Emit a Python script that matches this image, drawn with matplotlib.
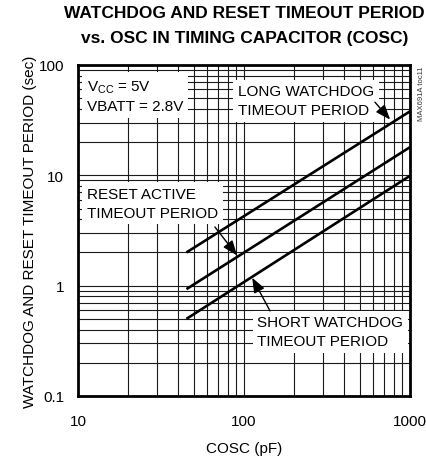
import matplotlib
matplotlib.use('Agg')
import matplotlib.pyplot as plt

plt.rcParams['font.family'] = ['Liberation Sans', 'DejaVu Sans']
plt.rcParams['mathtext.default'] = 'regular'

# values (log-log straight lines)
cosc_pf = [45, 1000]
long_wd = [2.0, 38.0]
reset_active = [0.93, 18.0]
short_wd = [0.5, 9.9]

fig = plt.figure(figsize=(4.27, 4.64), dpi=100)
ax = fig.add_axes([0.1827, 0.1444, 0.7775, 0.7134])

ax.set_xscale('log')
ax.set_yscale('log')
ax.set_xlim(10, 1000)
ax.set_ylim(0.1, 100)

# grid
ax.set_axisbelow(True)
ax.grid(True, which='both', color='#1a1a1a', linewidth=0.8)
ax.tick_params(which='both', length=0, labelsize=11, pad=10)
ax.tick_params(axis='x', pad=13)
ax.set_xticks([10, 100, 1000])
ax.set_xticklabels(['10', '100', '1000'])
ax.set_yticks([0.1, 1, 10, 100])
ax.set_yticklabels(['0.1', '1', '10', '100'])
for s in ax.spines.values():
    s.set_linewidth(2.0)
    s.set_zorder(5)

# curves
for vals in (long_wd, reset_active, short_wd):
    ax.plot(cosc_pf, vals, color='black', linewidth=1.9, solid_capstyle='butt', zorder=4)

box = dict(facecolor='white', edgecolor='none', boxstyle='square,pad=0.3')
fs = 11
ls = 1.45

ax.text(11.3, 76, 'V$_{CC}$ = 5V\nVBATT = 2.8V', fontsize=fs, va='top', ha='left',
        bbox=box, zorder=3, linespacing=ls)
ax.text(92, 67, 'LONG WATCHDOG\nTIMEOUT PERIOD', fontsize=fs, va='top', ha='left',
        bbox=box, zorder=3, linespacing=ls)
ax.text(11.3, 7.9, 'RESET ACTIVE\nTIMEOUT PERIOD', fontsize=fs, va='top', ha='left',
        bbox=box, zorder=3, linespacing=ls)
ax.text(120, 0.54, 'SHORT WATCHDOG\nTIMEOUT PERIOD', fontsize=fs, va='top', ha='left',
        bbox=box, zorder=3, linespacing=ls)

arrow = dict(arrowstyle='-|>,head_length=0.9,head_width=0.35', color='black', lw=1.0,
             shrinkA=0, shrinkB=0)
ax.annotate('', xy=(759, 32.0), xytext=(615, 46), arrowprops=arrow, zorder=4)
ax.annotate('', xy=(90.8, 1.88), xytext=(66.8, 3.4), arrowprops=arrow, zorder=4)
ax.annotate('', xy=(112, 1.18), xytext=(143.5, 0.59), arrowprops=arrow, zorder=4)

ax.set_xlabel('COSC (pF)', fontsize=11, labelpad=9)
ax.set_ylabel('WATCHDOG AND RESET TIMEOUT PERIOD (sec)', fontsize=11, labelpad=1)

fig.text(0.573, 0.970, 'WATCHDOG AND RESET TIMEOUT PERIOD', fontsize=12.5,
         fontweight='bold', ha='center', va='center')
fig.text(0.573, 0.918, 'vs. OSC IN TIMING CAPACITOR (COSC)', fontsize=12.5,
         fontweight='bold', ha='center', va='center')

fig.text(0.988, 0.797, 'MAX691A toc11', fontsize=5.5, rotation=90, ha='center', va='center',
         color='#333333')

fig.savefig('out.png', dpi=100)
